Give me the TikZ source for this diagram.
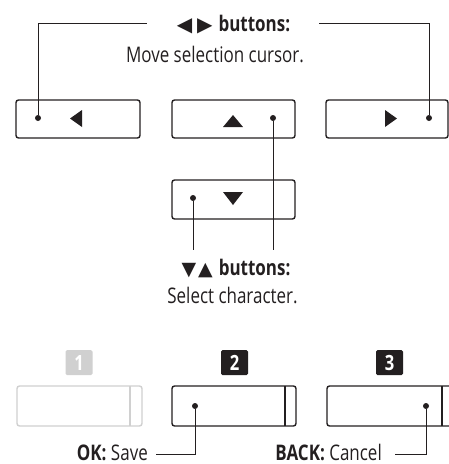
\documentclass[tikz,border=0pt]{standalone}
\usepackage{fontspec}
\setmainfont{Open Sans}[FakeStretch=0.79]
\newfontfamily\symfont{DejaVu Sans}
\definecolor{ink}{HTML}{231F20}
\definecolor{pale}{HTML}{D0D0D0}
\begin{document}
\begin{tikzpicture}[x=1pt,y=-1pt,
  btn/.style={draw=ink,line width=1.4pt,rounded corners=2.5pt},
  palebtn/.style={draw=pale,line width=1.4pt,rounded corners=2.5pt},
  dot/.style={circle,fill=ink,inner sep=0pt,minimum size=6pt},
  lead/.style={draw=ink,line width=1pt},
  txt/.style={inner sep=0pt,anchor=base,text=ink,font=\fontsize{21.5}{24}\selectfont},
  hdr/.style={txt,font=\fontsize{21.5}{24}\selectfont\bfseries},
  badge/.style={rounded corners=1.5pt,minimum width=27pt,minimum height=25pt,inner sep=0pt,text=white,font=\fontsize{21}{22}\selectfont\bfseries}]
\useasboundingbox (0,0) rectangle (449,464);
% top row buttons
\draw[btn] (16,100) rectangle (140,138);
\draw[btn] (172,100) rectangle (295,138);
\draw[btn] (326,100) rectangle (448,138);
\fill[ink] (70,118.5) -- (82,110) -- (82,127) -- cycle;
\fill[ink] (223,127) -- (243,127) -- (233,115) -- cycle;
\fill[ink] (397,118.5) -- (385,110) -- (385,127) -- cycle;
\node[dot] (dl) at (38,118) {};
\node[dot] (du) at (273,118) {};
\node[dot] (dr) at (429,118) {};
% down button
\draw[btn] (172,180) rectangle (295,219);
\fill[ink] (223,192) -- (243,192) -- (233,205) -- cycle;
\node[dot] (dd) at (193,198) {};
% heading top
\node[hdr] (h1) at (233.5,31.5) {{\symfont\fontsize{20}{20}\selectfont ◀\kern5pt▶}\kern6pt buttons:};
\node[txt] (t1) at (215,62.5) {Move selection cursor.};
\coordinate (h1l) at (147,23);
\coordinate (h1r) at (319,23);
\draw[lead] (dl) |- (h1l);
\draw[lead] (dr) |- (h1r);
% second heading
\coordinate (c2a) at (193,250);
\coordinate (c2b) at (273,250);
\draw[lead] (dd) -- (c2a);
\draw[lead] (du) -- (c2b);
\node[hdr] (h2) at (236,275) {{\symfont\fontsize{19}{20}\selectfont ▼\kern2pt▲}\kern6pt buttons:};
\node[txt] (t2) at (232.5,303) {Select character.};
% badges
\node[badge,fill=pale] (b1) at (79,362.5) {1};
\node[badge,fill=ink] (b2) at (234.5,362.5) {2};
\node[badge,fill=ink] (b3) at (389.5,362.5) {3};
% bottom buttons
\draw[palebtn] (17,386) rectangle (142,426);
\draw[pale,line width=1.4pt] (130,386) -- (130,426);
\draw[btn] (172,386) rectangle (296,426);
\draw[ink,line width=1.4pt] (285,386) -- (285,426);
\draw[btn] (327,386) rectangle (460,426);
\draw[ink,line width=1.4pt] (442,386) -- (442,426);
\node[dot] (d2) at (195,406) {};
\node[dot] (d3) at (426,406) {};
\node[txt,anchor=base east] (ok) at (148,460) {\textbf{OK:} Save};
\node[txt,anchor=base east] (bk) at (382,460) {\textbf{BACK:} Cancel};
\coordinate (okc) at (156,454);
\coordinate (bkc) at (395,454);
\draw[lead] (d2) |- (okc);
\draw[lead] (d3) |- (bkc);
\end{tikzpicture}
\end{document}
